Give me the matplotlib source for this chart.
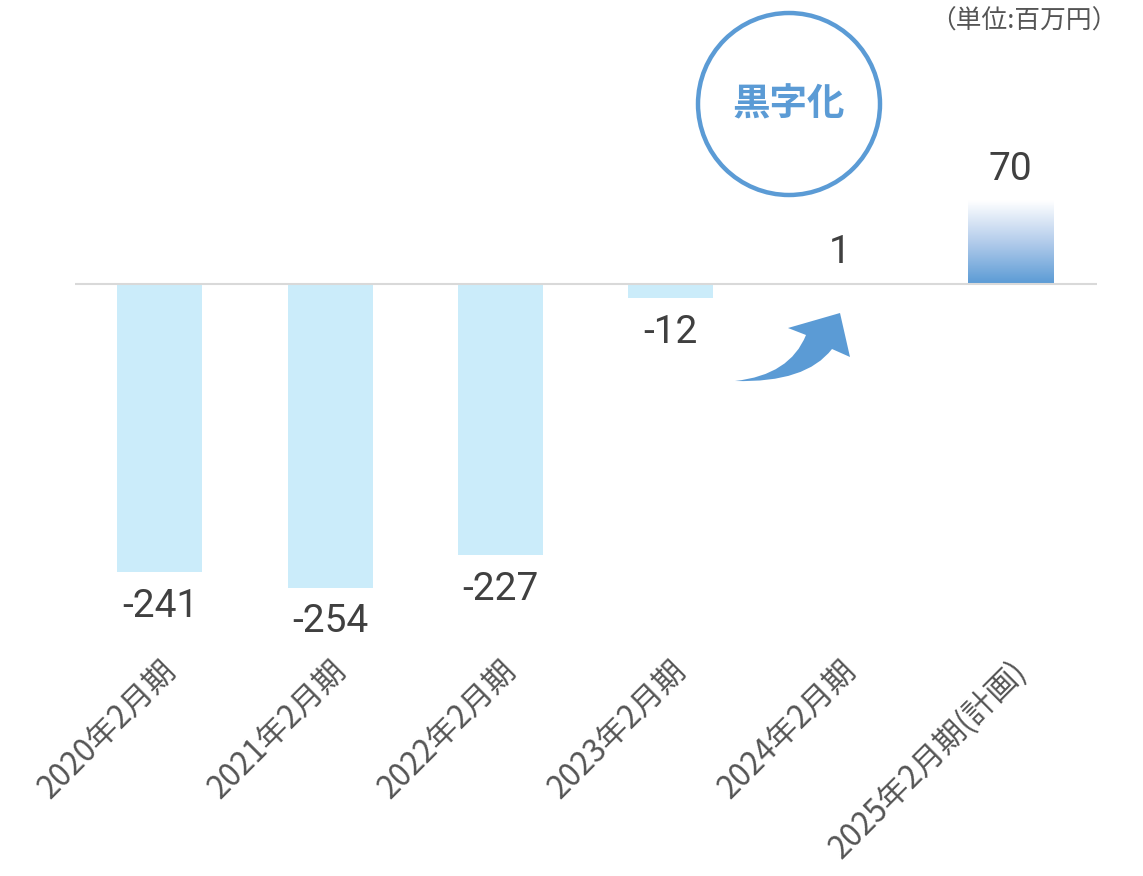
import numpy as np
import matplotlib
matplotlib.use("Agg")
import matplotlib.pyplot as plt
from matplotlib.colors import LinearSegmentedColormap
from matplotlib.patches import Ellipse, PathPatch
from matplotlib.path import Path

plt.rcParams['font.family'] = ['Noto Sans CJK JP', 'DejaVu Sans']

periods = ["2020年2月期", "2021年2月期", "2022年2月期", "2023年2月期", "2024年2月期", "2025年2月期(計画)"]
values = [-241, -254, -227, -12, 1, 70]
unit_label = "（単位:百万円）"
badge_text = "黒字化"

bar_color = "#cbecfa"
blue = "#5b9bd5"
text_color = "#404040"

W, H = 1143, 876
fig = plt.figure(figsize=(W / 100, H / 100), dpi=100)
ax = fig.add_axes([0.0656, 0.2694, 0.894, 0.5708])
x = np.arange(len(values))
bw = 0.5

# plain bars for actual results, gradient bar for the plan
ax.bar(x[:5], values[:5], width=bw, color=bar_color, zorder=2)
grad = LinearSegmentedColormap.from_list("g", ["#ffffff", "#b3cceb", blue])
ax.imshow(np.linspace(0, 1, 100).reshape(-1, 1), cmap=grad, aspect='auto',
          extent=[x[5] - bw / 2, x[5] + bw / 2, 0, values[5]], origin='upper', zorder=2)

ax.axhline(0, color="#d9d9d9", lw=1.5, zorder=3)

for xi, v in zip(x, values):
    off = 22 if v > 0 else -24.5
    ax.annotate(f"{v}", (xi, v), xytext=(0, off), textcoords='offset points',
                ha='center', va='center', fontsize=28, color=text_color,
                family=['Roboto', 'DejaVu Sans'])

ax.set_xlim(-0.5, 5.51)
ax.set_ylim(-297.9, 120.5)
ax.set_xticks(x)
ax.set_xticklabels(periods, rotation=45, ha='right', rotation_mode='anchor',
                   fontsize=22.5, color="#555555")
ax.tick_params(axis='x', length=0, pad=10)
ax.set_yticks([])
for s in ax.spines.values():
    s.set_visible(False)

fig.text(1117 / W, 1 - 22 / H, unit_label, ha='right', va='center',
         fontsize=18.5, color="#555555")

# 黒字化 badge
r = 91
fig.patches.append(Ellipse((789 / W, 1 - 104 / H), 2 * r / W, 2 * r / H,
                           transform=fig.transFigure, fill=False, ec=blue, lw=3.2))
fig.text(789 / W, 1 - 104 / H, badge_text, ha='center', va='center',
         fontsize=27, fontweight='bold', color=blue)


# curved arrow drawn as an outline (pixel positions, top-left origin)
def px(p):
    return (p[0] / W, 1 - p[1] / H)


arrow_pts = [(840, 313), (850, 357), (832, 349), (806, 383), (735, 381),
             (790, 375), (806, 335), (788, 328), (840, 313)]
codes = [Path.MOVETO, Path.LINETO, Path.LINETO, Path.CURVE3, Path.CURVE3,
         Path.CURVE3, Path.CURVE3, Path.LINETO, Path.CLOSEPOLY]
fig.patches.append(PathPatch(Path([px(p) for p in arrow_pts], codes),
                             transform=fig.transFigure, fc=blue, ec='none'))

fig.savefig("out.png", dpi=100)
